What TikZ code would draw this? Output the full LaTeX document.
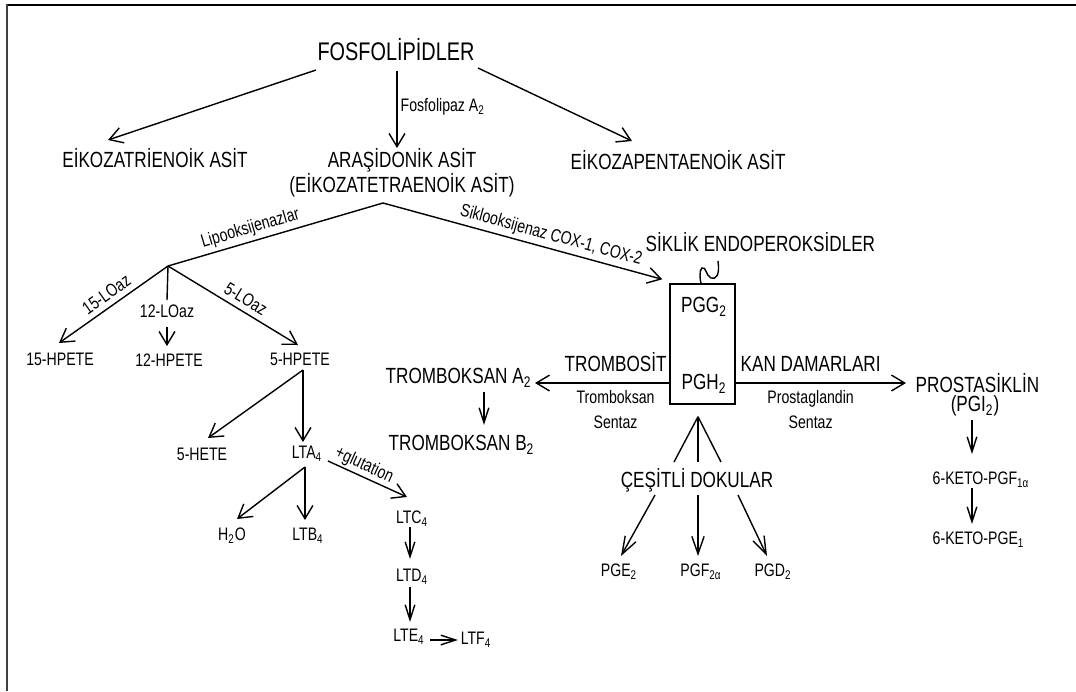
\documentclass[tikz,border=0pt]{standalone}
\usepackage{fontspec}
\setmainfont{Liberation Sans}[FakeStretch=0.78]
\usetikzlibrary{arrows.meta}

\begin{document}
\begin{tikzpicture}[x=0.02cm, y=-0.02cm, line width=0.8pt,
    big/.style={inner sep=0pt, font=\fontsize{12.5}{15}\selectfont},
    small/.style={inner sep=0pt, font=\fontsize{10.3}{14.2}\selectfont},
    arr/.style={-{Straight Barb[length=7.5pt,width=9pt]}},
    rarr/.style={{Straight Barb[length=7.5pt,width=9pt]}-},
    sarr/.style={-{Straight Barb[length=8.5pt,width=5.5pt]}},
    larr/.style={-{Straight Barb[length=10pt,width=7pt]}}]
    \useasboundingbox (0,0) rectangle (1076,691);
    % Frame
    \draw[line width=1.3pt] (7,5) -- (1076,5);
    \draw[line width=1pt, black!75] (7,4) -- (7,691);

    % Fatty acids
    \node[inner sep=0pt, font=\fontsize{14.5}{17}\selectfont] (fosfo) at (396,50) {FOSFOLİPİDLER};
    \node[big] (trien) at (155,158) {EİKOZATRİENOİK ASİT};
    \node[big] (arasi) at (402,160) {ARAŞİDONİK ASİT};
    \node[big] (tetra) at (402,185) {(EİKOZATETRAENOİK ASİT)};
    \node[big, anchor=west] (penta) at (570,160) {EİKOZAPENTAENOİK ASİT};
    \node[small, anchor=west] (fla2) at (400,107) {Fosfolipaz A\textsubscript{2}};
    \draw[arr] ([shift={(-80,20)}]fosfo.center) -- ([shift={(-47,-18)}]trien.center);
    \draw[arr] ([shift={(1,21)}]fosfo.center) -- ([shift={(-5,-12)}]arasi.center);
    \draw[arr] ([shift={(82,18)}]fosfo.center) -- ([shift={(62,-19)}]penta.west);

    % Lipooksijenaz branch
    \node[small] (lo12) at (167,311) {12-LOaz};
    \node[small] (hpete15) at (60,359) {15-HPETE};
    \node[small] (hpete12) at (169,360) {12-HPETE};
    \node[small] (hpete5) at (300,359) {5-HPETE};
    \node[small] (hete5) at (202,454) {5-HETE};
    \node[small] (lta4) at (307,454) {LTA\textsubscript{4}};
    \node[small] (h2o) at (232,536) {H\textsubscript{2}O};
    \node[small] (ltb4) at (308,536) {LTB\textsubscript{4}};
    \node[small] (ltc4) at (412,519) {LTC\textsubscript{4}};
    \node[small] (ltd4) at (412,577) {LTD\textsubscript{4}};
    \node[small] (lte4) at (409,637) {LTE\textsubscript{4}};
    \node[small] (ltf4) at (476,640) {LTF\textsubscript{4}};
    \coordinate (split) at ([shift={(-19,18)}]tetra.center);
    \coordinate (lox) at ([shift={(1,-45)}]lo12.center);
    \draw (lox) -- node[small, sloped, above=2pt, pos=0.4] {Lipooksijenazlar} (split);
    \draw[rarr] ([shift={(-1,-16)}]hpete15.center) -- node[small, sloped, above=3pt] {15-LOaz} (lox);
    \draw (lox) -- ([shift={(0,-11)}]lo12.center);
    \draw[arr] ([shift={(0,16)}]lo12.center) -- ([shift={(-2,-14)}]hpete12.center);
    \draw[arr] (lox) -- node[small, sloped, above=3pt, pos=0.55] {5-LOaz} ([shift={(-2,-14)}]hpete5.center);
    \draw[arr] ([shift={(3,11)}]hpete5.center) -- ([shift={(6,-16)}]hete5.center);
    \draw[arr] ([shift={(3,11)}]hpete5.center) -- ([shift={(-4,-12)}]lta4.center);
    \draw[arr] ([shift={(-2,13)}]lta4.center) -- ([shift={(5,-17)}]h2o.center);
    \draw[arr] ([shift={(-2,13)}]lta4.center) -- ([shift={(-3,-16)}]ltb4.center);
    \draw[arr] ([shift={(21,7)}]lta4.center) -- node[small, sloped, above=1pt, pos=0.4] {+glutation} ([shift={(-5,-22)}]ltc4.center);
    \draw[sarr] ([shift={(-2,8)}]ltc4.center) -- ([shift={(-2,-18)}]ltd4.center);
    \draw[sarr] ([shift={(-2,10)}]ltd4.center) -- ([shift={(1,-15)}]lte4.center);
    \draw[sarr] ([shift={(21,3)}]lte4.center) -- ([shift={(-18,0)}]ltf4.center);

    % Endoperoxides
    \node[draw, minimum width=1.3cm, minimum height=2.4cm] (box) at (702.5,344) {};
    \node[big] (pgg2) at (704,307) {PGG\textsubscript{2}};
    \node[big] (pgh2) at (704,384) {PGH\textsubscript{2}};
    \node[big, anchor=west] (endo) at (645,242) {SİKLİK ENDOPEROKSİDLER};
    \draw[arr] (split) -- node[small, sloped, above=2pt, pos=0.59] {Siklooksijenaz COX-1, COX-2} ([shift={(-7,-4)}]box.north west);
    \draw ([shift={(73,19)}]endo.west) .. controls (720,275) and (716,280) .. (711,278)
        .. controls (706,276) and (706,266) .. (702,268)
        .. controls (699,270) and (700,280) .. ([shift={(-1.5,0)}]box.north);

    % Trombosit side
    \node[big, anchor=east] (tba2) at (532,378) {TROMBOKSAN A\textsubscript{2}};
    \node[big, anchor=west] (tbb2) at (388,445) {TROMBOKSAN B\textsubscript{2}};
    \draw[arr] ([shift={(0,39)}]box.west) -- node[big, above=6pt, pos=0.4] {TROMBOSİT}
        node[small, below=4pt, pos=0.4, align=center] {Tromboksan\\Sentaz} ([shift={(3,5)}]tba2.east);
    \draw[sarr] ([shift={(-48,14)}]tba2.east) -- ([shift={(96,-20)}]tbb2.west);

    % Vessel side
    \node[big, anchor=west] (prost) at (915,383) {PROSTASİKLİN};
    \node[big] (pgi2) at (975,406) {(PGI\textsubscript{2})};
    \node[small, anchor=west] (keto1) at (932,480) {6-KETO-PGF\textsubscript{1α}};
    \node[small, anchor=west] (keto2) at (932,540) {6-KETO-PGE\textsubscript{1}};
    \draw[arr] ([shift={(0,39)}]box.east) -- node[big, above=6pt, pos=0.44] {KAN DAMARLARI}
        node[small, below=4pt, pos=0.44, align=center] {Prostaglandin\\Sentaz} ([shift={(-9,0)}]prost.west);
    \draw[sarr] ([shift={(-3,14)}]pgi2.center) -- ([shift={(40,-26)}]keto1.west);
    \draw[sarr] ([shift={(40,8)}]keto1.west) -- ([shift={(40,-16)}]keto2.west);

    % Tissues
    \node[big] (cesit) at (697,480) {ÇEŞİTLİ DOKULAR};
    \node[small] (pge2) at (619,572) {PGE\textsubscript{2}};
    \node[small] (pgf2a) at (701,572) {PGF\textsubscript{2α}};
    \node[small] (pgd2) at (773,572) {PGD\textsubscript{2}};
    \coordinate (apex) at ([shift={(-4.5,12)}]box.south);
    \foreach \dx in {-23,1,24} {
        \draw ([shift={(\dx,-18)}]cesit.center) -- (apex);
    }
    \foreach \dx/\tgt/\ex in {-42/pge2/2, 1/pgf2a/-3, 41/pgd2/-6} {
        \draw[larr] ([shift={(\dx,15)}]cesit.center) -- ([shift={(\ex,-16)}]\tgt.center);
    }
\end{tikzpicture}
\end{document}
